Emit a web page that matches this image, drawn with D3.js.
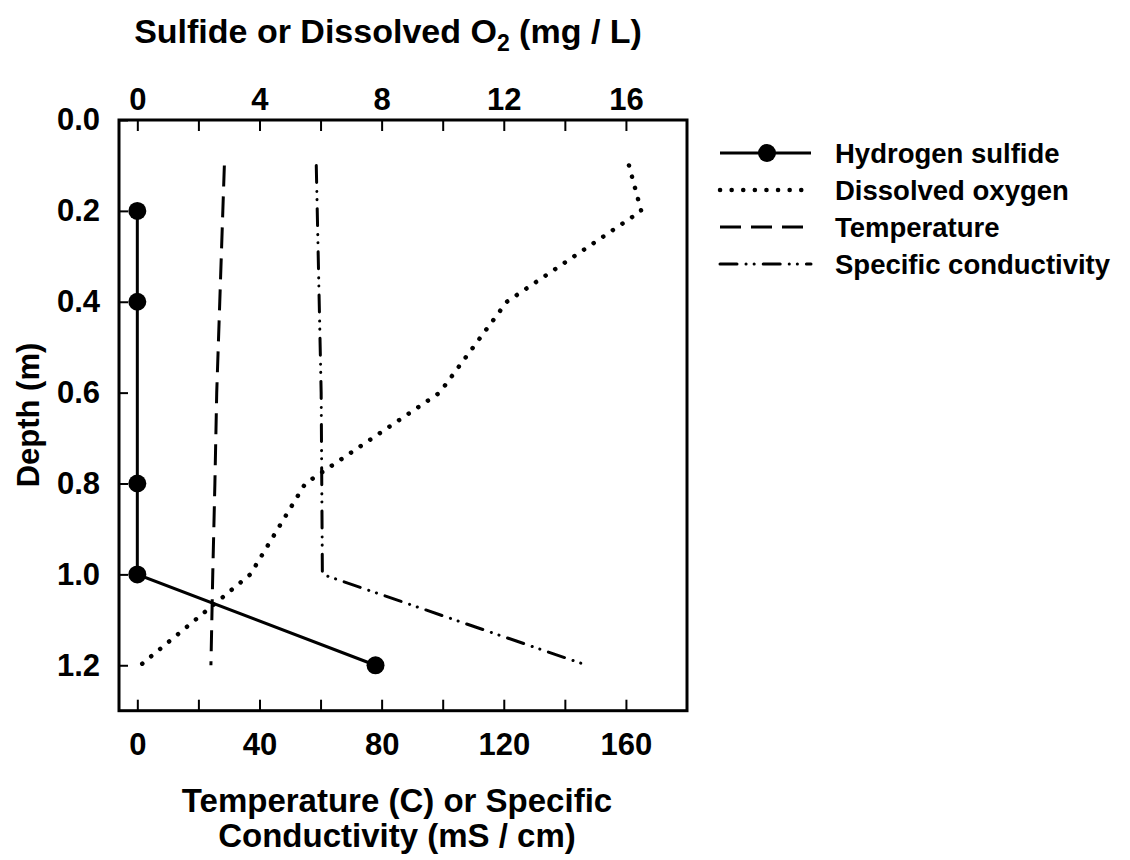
<html>
<script src="https://d3js.org/d3.v7.min.js"></script>
<head>
<style>
  body { margin: 0; background: #fff; }
  text { font-family: "Liberation Sans", Arial, sans-serif; font-weight: bold; fill: #000; }
</style>
</head>
<body onload='init()'>
<svg width=1130 height=860></svg>
<script>
// depth (m) and values
var depthH2S = [0.2, 0.4, 0.8, 1.0, 1.2];
var h2s = [0, 0, 0, 0, 7.8];

var depthDO = [0.1, 0.2, 0.3, 0.4, 0.5, 0.6, 0.7, 0.8, 0.9, 1.0, 1.1, 1.2];
var dissolvedO2 = [16.1, 16.5, 14.3, 12.1, 11.0, 9.9, 7.7, 5.5, 4.6, 3.7, 1.9, 0.1];

var depthTemp = [0.1, 0.2, 0.4, 0.6, 0.8, 1.0, 1.2];
var temperature = [28.5, 28.0, 27.0, 26.0, 25.4, 24.7, 24.1];

var depthCond = [0.1, 0.6, 1.0, 1.2];
var conductivity = [58.6, 60.2, 60.6, 147.2];

var topTicks = [0, 2, 4, 6, 8, 10, 12, 14, 16];
var topLabels = [0, 4, 8, 12, 16];
var bottomTicks = [0, 20, 40, 60, 80, 100, 120, 140, 160];
var bottomLabels = [0, 40, 80, 120, 160];
var depthTicks = [0, 0.2, 0.4, 0.6, 0.8, 1.0, 1.2];

var legendNames = ["Hydrogen sulfide", "Dissolved oxygen", "Temperature", "Specific conductivity"];

function init() {
  var svg = d3.select("svg");
  var left = 119, right = 687, top = 120, bottom = 710.7;

  var xTop = d3.scaleLinear().domain([-0.6, 18]).range([left, right]);
  var xBot = d3.scaleLinear().domain([-6, 180]).range([left, right]);
  var y = d3.scaleLinear().domain([0, 1.3]).range([top, bottom]);

  // axes, ticks pointing inward
  var gt = svg.append("g").attr("transform", "translate(0," + top + ")")
    .call(d3.axisTop(xTop).tickValues(topTicks).tickSize(-11).tickPadding(10)
      .tickFormat(function(d) { return topLabels.indexOf(d) >= 0 ? d : ""; }));
  var gb = svg.append("g").attr("transform", "translate(0," + bottom + ")")
    .call(d3.axisBottom(xBot).tickValues(bottomTicks).tickSize(-11).tickPadding(22)
      .tickFormat(function(d) { return bottomLabels.indexOf(d) >= 0 ? d : ""; }));
  var gl = svg.append("g").attr("transform", "translate(" + left + ",0)")
    .call(d3.axisLeft(y).tickValues(depthTicks).tickSize(-9).tickPadding(19)
      .tickFormat(d3.format(".1f")));

  [gt, gb, gl].forEach(function(g) {
    g.select(".domain").remove();
    g.selectAll(".tick line").attr("stroke", "#000").attr("stroke-width", 2);
    g.selectAll(".tick text").attr("font-size", 31).attr("font-family", null);
  });

  svg.append("rect")
    .attr("x", left).attr("y", top)
    .attr("width", right - left).attr("height", bottom - top)
    .attr("fill", "none").attr("stroke", "#000").attr("stroke-width", 3);

  // series
  var tempLine = d3.line().x(function(d) { return xBot(d[1]); }).y(function(d) { return y(d[0]); });
  var topLine = d3.line().x(function(d) { return xTop(d[1]); }).y(function(d) { return y(d[0]); });

  var styles = [
    { dash: null, width: 3, cap: "butt" },
    { dash: "0.1 11.5", width: 4.5, cap: "round" },
    { dash: "21 10", width: 3, cap: "butt" },
    { dash: "17 9 0.1 8 0.1 9", width: 3, cap: "round" }
  ];

  function draw(depths, vals, lineGen, st) {
    svg.append("path")
      .datum(d3.zip(depths, vals))
      .attr("d", lineGen)
      .attr("fill", "none").attr("stroke", "#000")
      .attr("stroke-width", st.width)
      .attr("stroke-linecap", st.cap)
      .attr("stroke-dasharray", st.dash);
  }

  draw(depthTemp, temperature, tempLine, styles[2]);
  draw(depthCond, conductivity, tempLine, styles[3]);
  draw(depthDO, dissolvedO2, topLine, styles[1]);
  draw(depthH2S, h2s, topLine, styles[0]);

  svg.append("g").selectAll("circle")
    .data(d3.zip(depthH2S, h2s))
    .enter()
    .append("circle")
    .attr("cx", function(d) { return xTop(d[1]); })
    .attr("cy", function(d) { return y(d[0]); })
    .attr("r", 9);

  // titles
  var title = svg.append("text").attr("x", 388).attr("y", 43)
    .attr("text-anchor", "middle").attr("font-size", 34);
  title.append("tspan").text("Sulfide or Dissolved O");
  title.append("tspan").attr("font-size", 23).attr("dy", 8).text("2");
  title.append("tspan").attr("dy", -8).text(" (mg / L)");

  svg.append("text")
    .attr("transform", "translate(39,415) rotate(-90)")
    .attr("text-anchor", "middle").attr("font-size", 31)
    .text("Depth (m)");

  svg.append("text").attr("x", 397).attr("y", 812)
    .attr("text-anchor", "middle").attr("font-size", 33)
    .text("Temperature (C) or Specific");
  svg.append("text").attr("x", 397).attr("y", 847)
    .attr("text-anchor", "middle").attr("font-size", 33)
    .text("Conductivity (mS / cm)");

  // legend
  var rows = [153, 190, 227, 264];
  var lg = svg.append("g");
  rows.forEach(function(ry, i) {
    var st = styles[i];
    lg.append("line")
      .attr("x1", 720).attr("x2", 811).attr("y1", ry).attr("y2", ry)
      .attr("stroke", "#000").attr("stroke-width", st.width)
      .attr("stroke-linecap", st.cap)
      .attr("stroke-dasharray", st.dash);
    lg.append("text").attr("x", 835).attr("y", ry + 10)
      .attr("font-size", 27.5).text(legendNames[i]);
  });
  lg.append("circle").attr("cx", 767).attr("cy", rows[0]).attr("r", 9);
}
</script>
</body>
</html>
